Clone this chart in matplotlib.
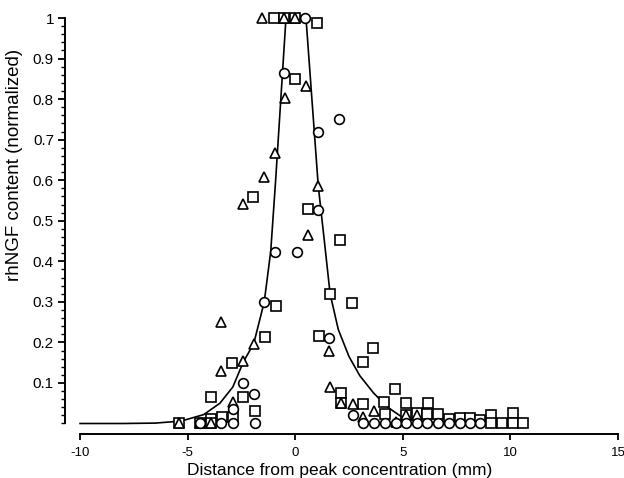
import matplotlib
matplotlib.use("Agg")
import matplotlib.pyplot as plt
import numpy as np

plt.rcParams['font.family'] = ['Liberation Sans', 'DejaVu Sans']

# open circles
circ_x = [0.46, -0.51, 2.05, 1.05, 1.07, -0.94, 0.07, -1.44, 1.58, -2.41,
          -1.90, -2.90, -1.88, -2.90, -3.43, -4.42, 2.67,
          3.16, 3.66, 4.17, 4.67, 5.15, 5.66, 6.14, 6.65, 7.16, 7.65, 8.12, 8.60]
circ_y = [1.0, 0.865, 0.750, 0.720, 0.527, 0.423, 0.423, 0.300, 0.210, 0.100,
          0.072, 0.036, 0.0, 0.0, 0.0, 0.0, 0.021,
          0.0, 0.0, 0.0, 0.0, 0.0, 0.0, 0.0, 0.0, 0.0, 0.0, 0.0, 0.0]

# open squares
sq_x = [-0.99, -0.52, 0.0, 1.01, -0.01, -1.97, 0.58, 2.08, 1.62, 2.63,
        -0.91, -1.41, 1.12, 3.63, 3.15, -2.92, 4.65, 2.15, 2.13, -3.93,
        -2.41, 3.14, 4.14, 5.15, 6.15, -1.88, 4.17, 5.15, 5.66, 6.14,
        6.65, 7.16, 7.64, 8.12, 8.58, 9.11, 9.11, 9.61, 10.11, 10.11,
        10.59, -2.90, -3.42, -3.93, -3.93, -4.42, -5.40]
sq_y = [1.0, 1.0, 1.0, 0.988, 0.849, 0.559, 0.528, 0.452, 0.320, 0.296,
        0.290, 0.214, 0.216, 0.185, 0.152, 0.150, 0.084, 0.075, 0.050, 0.065,
        0.066, 0.048, 0.052, 0.051, 0.051, 0.032, 0.024, 0.022, 0.025, 0.024,
        0.023, 0.010, 0.013, 0.013, 0.008, 0.021, 0.0, 0.0, 0.027, 0.0,
        0.0, 0.015, 0.017, 0.012, 0.0, 0.0, 0.0]

# open triangles
tri_x = [-1.54, -0.52, 0.0, 0.50, -0.47, -0.94, -1.44, 1.07, -2.44, 0.58,
         -3.44, 1.58, -1.92, -2.41, -3.43, 1.62, -2.90, 2.13, 2.67, 3.66,
         3.16, 4.67, 5.66, 5.15, -3.93, -4.42, -5.40]
tri_y = [1.0, 1.0, 1.0, 0.833, 0.803, 0.666, 0.609, 0.586, 0.541, 0.465,
         0.251, 0.178, 0.195, 0.155, 0.130, 0.091, 0.054, 0.051, 0.047, 0.032,
         0.017, 0.004, 0.022, 0.020, 0.0, 0.0, 0.0]

# fitted profile
fit_x = [-10, -8, -6.5, -5.3, -4.25, -3.5, -2.9, -2.41, -1.93, -1.7,
         -1.44, -1.14, -0.91, -0.43, 0.50, 1.07, 1.35, 1.62, 2.0, 2.5,
         3.0, 3.63, 4.25, 4.9, 5.65, 6.7, 8.0, 10.5]
fit_y = [0.0, 0.0, 0.001, 0.006, 0.022, 0.050, 0.090, 0.152, 0.197, 0.245,
         0.300, 0.424, 0.600, 1.0, 1.0, 0.586, 0.452, 0.320, 0.232, 0.165,
         0.118, 0.076, 0.042, 0.018, 0.006, 0.001, 0.0, 0.0]

xticks = [-10, -5, 0, 5, 10, 15]
xtick_labels = ['-10', '-5', '0', '5', '10', '15']
yticks = [0.1, 0.2, 0.3, 0.4, 0.5, 0.6, 0.7, 0.8, 0.9, 1.0]
ytick_labels = ['0.1', '0.2', '0.3', '0.4', '0.5', '0.6', '0.7', '0.8', '0.9', '1']

fig = plt.figure(figsize=(6.24, 4.78), dpi=100)
ax = fig.add_axes([65 / 624, 44 / 478, 559 / 624, 426 / 478])

ax.plot(fit_x, fit_y, color='black', lw=1.2, zorder=2)

mk = dict(linestyle='none', mfc='white', mec='black', mew=1.2, zorder=3)
ax.plot(sq_x, sq_y, marker='s', ms=6.5, **mk)
ax.plot(tri_x, tri_y, marker='^', ms=6.5, **mk)
ax.plot(circ_x, circ_y, marker='o', ms=7, **mk)

ax.set_xlim(-10.70, 15.28)
ax.set_ylim(-0.0259, 1.0247)

for s in ['top', 'right']:
    ax.spines[s].set_visible(False)
ax.spines['left'].set_bounds(0, 1)
ax.spines['bottom'].set_bounds(-10, 15)
ax.spines['left'].set_linewidth(1.4)
ax.spines['bottom'].set_linewidth(1.4)

ax.set_xticks(xticks)
ax.set_xticklabels(xtick_labels)
ax.set_yticks(yticks)
ax.set_yticklabels(ytick_labels)
ax.set_yticks(np.arange(0, 1.001, 0.02), minor=True)

ax.tick_params(axis='x', direction='out', length=4.5, width=1.3, pad=5, labelsize=9.5)
ax.tick_params(axis='y', which='major', direction='out', length=5, width=1.3, pad=3, labelsize=11)
ax.tick_params(axis='y', which='minor', direction='out', length=3, width=1.0)

fig.text(15 / 624, 1 - 165 / 478, 'rhNGF content (normalized)', rotation=90,
         ha='center', va='center', fontsize=13.5)
fig.text(340 / 624, 2.5 / 478, 'Distance from peak concentration (mm)',
         ha='center', va='baseline', fontsize=12.5)

fig.savefig('out.png', dpi=100)
